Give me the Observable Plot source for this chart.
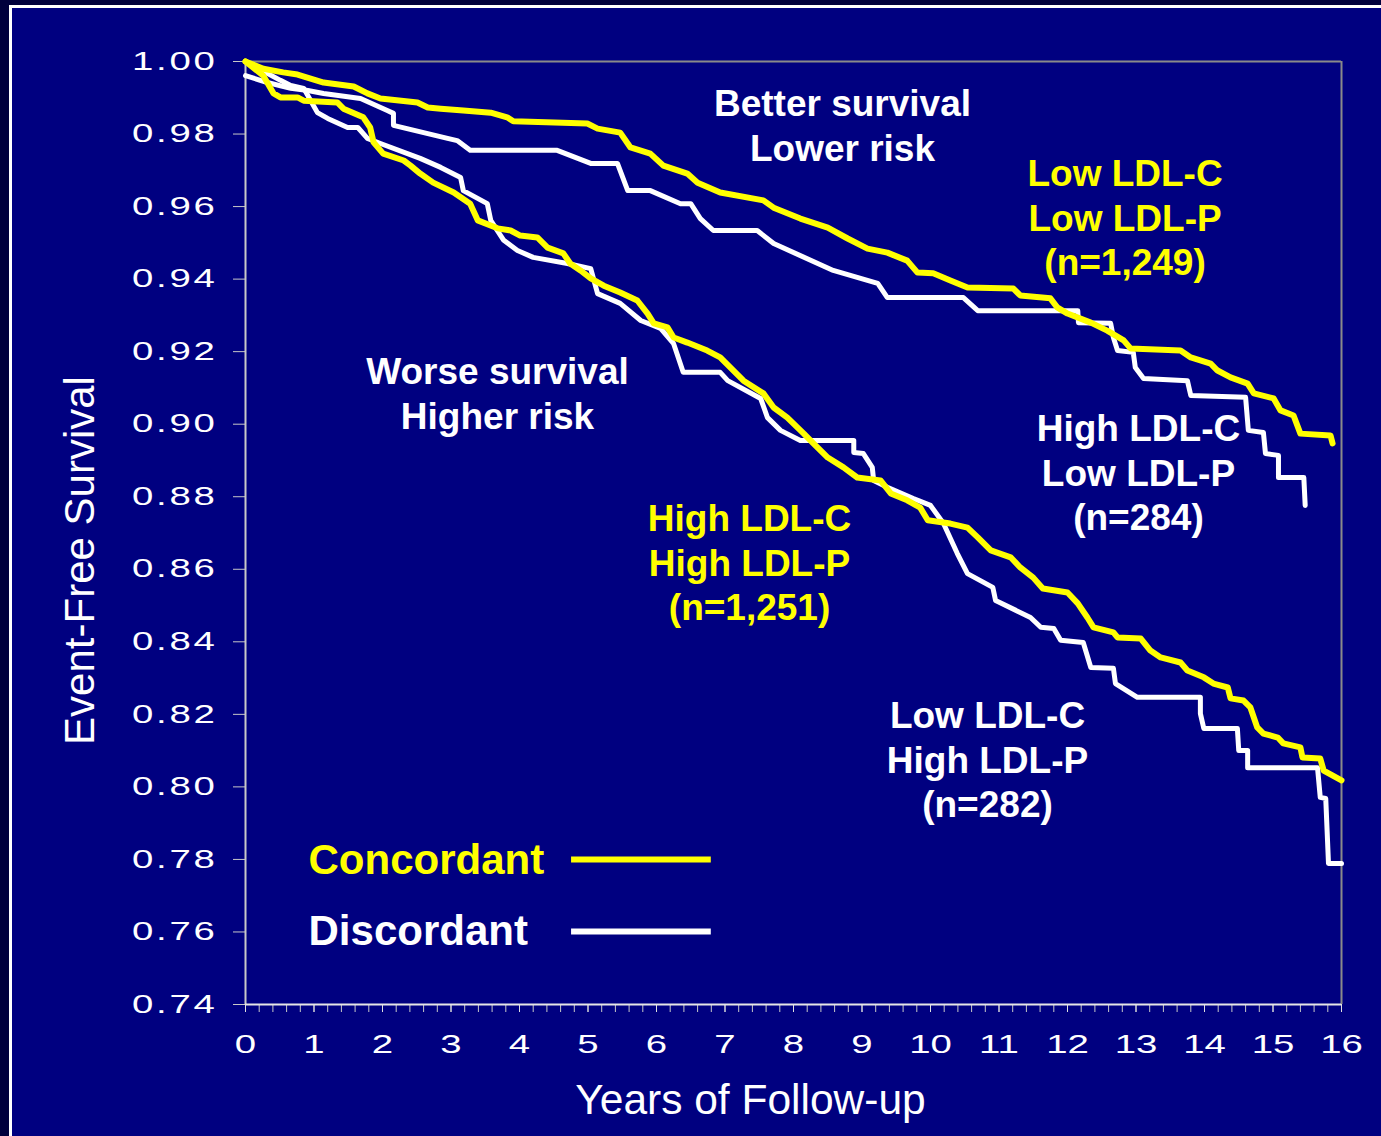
<!DOCTYPE html>
<html><head><meta charset="utf-8">
<script src="https://cdn.jsdelivr.net/npm/d3@7"></script>
<script src="https://cdn.jsdelivr.net/npm/@observablehq/plot@0.6"></script>
<style>
html,body{margin:0;padding:0;width:1381px;height:1136px;overflow:hidden;background:#00003c;}
#frame{position:absolute;left:9px;top:5px;width:1500px;height:1300px;border:3px solid #ffffff;background:#000080;}
#chart{position:absolute;left:0;top:0;}
</style></head>
<body><div id="frame"></div><div id="chart"></div>
<script>
// Survival curves: [years, event-free survival]
const lowLDLC_lowLDLP = [[0,1.000],[0.26,0.998],[0.55,0.997],[0.76,0.9964],[1.14,0.9942],[1.58,0.9931],[1.78,0.9912],[1.97,0.9898],[2.51,0.9887],[2.66,0.9873],[2.85,0.9870],[3.18,0.9865],[3.58,0.9859],[3.82,0.9846],[3.91,0.9835],[4.99,0.9829],[5.14,0.9815],[5.47,0.9804],[5.62,0.9763],[5.91,0.9746],[6.10,0.9713],[6.45,0.9691],[6.60,0.9666],[6.93,0.9639],[7.56,0.9617],[7.71,0.9597],[8.10,0.9567],[8.50,0.9542],[8.79,0.9512],[9.08,0.9484],[9.37,0.9473],[9.66,0.9451],[9.81,0.9418],[10.04,0.9416],[10.29,0.9396],[10.54,0.9377],[11.21,0.9374],[11.31,0.9355],[11.75,0.9347],[11.85,0.9322],[12.00,0.9305],[12.34,0.9280],[12.58,0.9258],[12.82,0.9231],[12.92,0.9209],[13.65,0.9203],[13.80,0.9184],[14.09,0.9167],[14.19,0.9148],[14.38,0.9129],[14.63,0.9112],[14.72,0.9085],[15.01,0.9071],[15.11,0.9038],[15.30,0.9024],[15.40,0.8974],[15.84,0.8969],[15.87,0.8947]];

const highLDLC_lowLDLP = [[0,0.9961],[0.32,0.9942],[0.66,0.9926],[0.91,0.9920],[1.14,0.9912],[1.68,0.9898],[2.07,0.9865],[2.16,0.9857],[2.16,0.9824],[2.95,0.9788],[3.09,0.9782],[3.28,0.9755],[4.55,0.9755],[5.04,0.9719],[5.43,0.9719],[5.58,0.9644],[5.91,0.9644],[6.35,0.9608],[6.50,0.9608],[6.64,0.9567],[6.83,0.9534],[7.47,0.9534],[7.71,0.9498],[8.58,0.9424],[9.23,0.9388],[9.37,0.9349],[10.48,0.9349],[10.69,0.9313],[12.15,0.9313],[12.16,0.9280],[12.63,0.9278],[12.67,0.9239],[12.73,0.9203],[12.96,0.9198],[12.99,0.9156],[13.11,0.9126],[13.75,0.9120],[13.80,0.9079],[14.60,0.9074],[14.64,0.8983],[14.86,0.8977],[14.89,0.8919],[15.08,0.8914],[15.08,0.8853],[15.45,0.8853],[15.47,0.8776]];

const highLDLC_highLDLP = [[0,1.000],[0.26,0.9961],[0.41,0.9912],[0.51,0.9901],[0.76,0.9901],[0.85,0.9892],[1.34,0.9887],[1.43,0.9870],[1.72,0.9846],[1.82,0.9818],[1.87,0.9777],[2.01,0.9746],[2.31,0.9727],[2.41,0.9713],[2.55,0.9691],[2.74,0.9666],[3.04,0.9639],[3.28,0.9608],[3.39,0.9562],[3.68,0.9540],[3.87,0.9534],[4.01,0.9520],[4.26,0.9515],[4.41,0.9487],[4.64,0.9471],[4.74,0.9443],[4.89,0.9424],[5.04,0.9402],[5.23,0.9382],[5.47,0.9363],[5.72,0.9341],[5.87,0.9305],[5.96,0.9278],[6.16,0.9267],[6.25,0.9239],[6.45,0.9225],[6.74,0.9203],[6.93,0.9184],[7.27,0.9120],[7.56,0.9085],[7.71,0.9046],[7.91,0.9018],[8.15,0.8974],[8.29,0.8947],[8.50,0.8908],[8.73,0.8881],[8.93,0.8853],[9.27,0.8845],[9.42,0.8809],[9.66,0.8790],[9.85,0.8770],[9.96,0.8735],[10.29,0.8726],[10.54,0.8715],[10.69,0.8688],[10.88,0.8652],[11.17,0.8633],[11.31,0.8605],[11.50,0.8577],[11.64,0.8547],[12.00,0.8536],[12.15,0.8506],[12.29,0.8467],[12.38,0.8440],[12.67,0.8426],[12.73,0.8412],[13.07,0.8409],[13.21,0.8376],[13.36,0.8357],[13.65,0.8343],[13.75,0.8321],[13.99,0.8302],[14.13,0.8285],[14.34,0.8274],[14.38,0.8244],[14.57,0.8238],[14.67,0.8219],[14.77,0.8164],[14.86,0.8147],[15.07,0.8136],[15.15,0.8120],[15.40,0.8109],[15.43,0.8081],[15.69,0.8078],[15.74,0.8045],[16.00,0.8018]];

const lowLDLC_highLDLP = [[0,1.000],[0.51,0.9948],[0.66,0.9934],[0.85,0.9926],[1.05,0.9859],[1.20,0.9843],[1.49,0.9818],[1.64,0.9818],[1.78,0.9788],[1.97,0.9774],[2.55,0.9733],[2.85,0.9708],[3.14,0.9680],[3.18,0.9644],[3.53,0.9608],[3.58,0.9562],[3.77,0.9507],[3.97,0.9479],[4.20,0.9460],[4.70,0.9443],[5.04,0.9429],[5.14,0.9360],[5.47,0.9333],[5.77,0.9286],[6.06,0.9264],[6.25,0.9222],[6.39,0.9143],[6.93,0.9143],[7.04,0.9120],[7.52,0.9071],[7.62,0.9018],[7.81,0.8983],[8.10,0.8955],[8.88,0.8955],[8.88,0.8922],[9.02,0.8919],[9.15,0.8881],[9.17,0.8845],[9.37,0.8826],[9.75,0.8795],[10.00,0.8776],[10.19,0.8726],[10.39,0.8644],[10.54,0.8588],[10.91,0.8550],[10.95,0.8514],[11.46,0.8467],[11.61,0.8440],[11.80,0.8437],[11.90,0.8404],[12.23,0.8398],[12.34,0.8329],[12.67,0.8327],[12.70,0.8285],[13.02,0.8247],[13.94,0.8247],[13.94,0.8202],[13.99,0.8161],[14.48,0.8161],[14.50,0.8100],[14.63,0.8100],[14.63,0.8053],[15.65,0.8053],[15.69,0.7971],[15.77,0.7968],[15.81,0.7789],[16.00,0.7789]];

const yTicks = [0.74,0.76,0.78,0.80,0.82,0.84,0.86,0.88,0.90,0.92,0.94,0.96,0.98,1.00];
const xTicks = [0,1,2,3,4,5,6,7,8,9,10,11,12,13,14,15,16];
const xMinorTicks = d3.range(0, 16.001, 0.2);

const annotations = [
  {text: "Better survival\nLower risk", t: 8.715, v: 0.9727, group: "white"},
  {text: "Low LDL-C\nLow LDL-P\n(n=1,249)", t: 12.84, v: 0.9410, group: "yellow"},
  {text: "High LDL-C\nLow LDL-P\n(n=284)", t: 13.036, v: 0.8707, group: "white"},
  {text: "Worse survival\nHigher risk", t: 3.679, v: 0.8988, group: "white"},
  {text: "High LDL-C\nHigh LDL-P\n(n=1,251)", t: 7.358, v: 0.8459, group: "yellow"},
  {text: "Low LDL-C\nHigh LDL-P\n(n=282)", t: 10.832, v: 0.7916, group: "white"}
];

const legendItems = [
  {label: "Concordant", t: 0.92, v: 0.7761, lineStart: 4.76, lineEnd: 6.80, lineV: 0.7800, color: "#ffff00"},
  {label: "Discordant", t: 0.92, v: 0.7563, lineStart: 4.76, lineEnd: 6.80, lineV: 0.7601, color: "#ffffff"}
];

const YELLOW = "#ffff00", WHITE = "#ffffff";
const toRows = arr => arr.map(([t, v]) => ({t, v}));

const plot = Plot.plot({
  width: 1381, height: 1136,
  marginLeft: 245, marginRight: 40, marginTop: 61, marginBottom: 132,
  x: {domain: [0, 16]},
  y: {domain: [0.74, 1.0]},
  style: {background: "transparent", color: "white", fontFamily: "'Liberation Sans', Arial, sans-serif", fontSize: "25.6px", overflow: "visible"},
  marks: [
    Plot.ruleY([1.0], {stroke: "#8a8a8a", strokeWidth: 2}),
    Plot.ruleX([16], {stroke: "#8a8a8a", strokeWidth: 2}),
    Plot.axisY({ticks: yTicks, tickFormat: d3.format(".2f"), tickSize: 12, tickPadding: 16, stroke: "#c8c8c8", fill: "white", label: null, fontSize: 25.6}),
    Plot.axisX({ticks: xMinorTicks, tickFormat: () => "", tickSize: 8, tickPadding: 22, stroke: "#c8c8c8", label: null}),
    Plot.axisX({ticks: xTicks, tickFormat: d3.format("d"), tickSize: 8, tickPadding: 22, stroke: "#e0e0e0", fill: "white", label: null, fontSize: 25.6}),
    Plot.ruleX([0], {stroke: "#c8c8c8", strokeWidth: 2}),
    Plot.ruleY([0.74], {stroke: "#e6e6e6", strokeWidth: 2}),
    Plot.line(toRows(highLDLC_lowLDLP), {x: "t", y: "v", stroke: WHITE, strokeWidth: 5, strokeLinejoin: "round"}),
    Plot.line(toRows(lowLDLC_highLDLP), {x: "t", y: "v", stroke: WHITE, strokeWidth: 5, strokeLinejoin: "round"}),
    Plot.line(toRows(lowLDLC_lowLDLP), {x: "t", y: "v", stroke: YELLOW, strokeWidth: 6, strokeLinejoin: "round"}),
    Plot.line(toRows(highLDLC_highLDLP), {x: "t", y: "v", stroke: YELLOW, strokeWidth: 6, strokeLinejoin: "round"}),
    Plot.text(annotations.filter(d => d.group === "white"), {x: "t", y: "v", text: "text", fill: WHITE, fontSize: 37, fontWeight: "bold", textAnchor: "middle", lineAnchor: "bottom", lineHeight: 1.21}),
    Plot.text(annotations.filter(d => d.group === "yellow"), {x: "t", y: "v", text: "text", fill: YELLOW, fontSize: 37, fontWeight: "bold", textAnchor: "middle", lineAnchor: "bottom", lineHeight: 1.21}),
    Plot.ruleY(legendItems, {y: "lineV", x1: "lineStart", x2: "lineEnd", stroke: "color", strokeWidth: 6}),
    Plot.text(legendItems, {x: "t", y: "v", text: "label", fill: "color", fontSize: 42, fontWeight: "bold", textAnchor: "start", lineAnchor: "bottom"}),
    Plot.text(["Event-Free Survival"], {frameAnchor: "left", textAnchor: "middle", lineAnchor: "bottom", rotate: -90, dx: -152, dy: 27.5, fontSize: 42, fill: "white"}),
    Plot.text(["Years of Follow-up"], {frameAnchor: "bottom", textAnchor: "middle", lineAnchor: "bottom", dx: -43, dy: 109, fontSize: 42.5, fill: "white"})
  ]
});

document.getElementById("chart").appendChild(plot);

// horizontally stretched tick labels, as in the original slide font:
// wrap each label in a group scaled about its anchor point
function stretch(sel, sx, anchor, spacing) {
  plot.querySelectorAll(sel).forEach(t => {
    if (!t.textContent) return;
    if (spacing) t.setAttribute("letter-spacing", spacing);
    const g = document.createElementNS("http://www.w3.org/2000/svg", "g");
    t.parentNode.insertBefore(g, t);
    g.appendChild(t);
    const b = g.getBBox();
    const ax = anchor === "end" ? b.x + b.width : b.x + b.width / 2;
    g.setAttribute("transform", `translate(${ax},0) scale(${sx},1) translate(${-ax},0)`);
  });
}
stretch('g[aria-label="y-axis tick label"] text', 1.5, "end", "1.8px");
stretch('g[aria-label="x-axis tick label"] text', 1.5, "middle", null);
</script>
</body></html>
